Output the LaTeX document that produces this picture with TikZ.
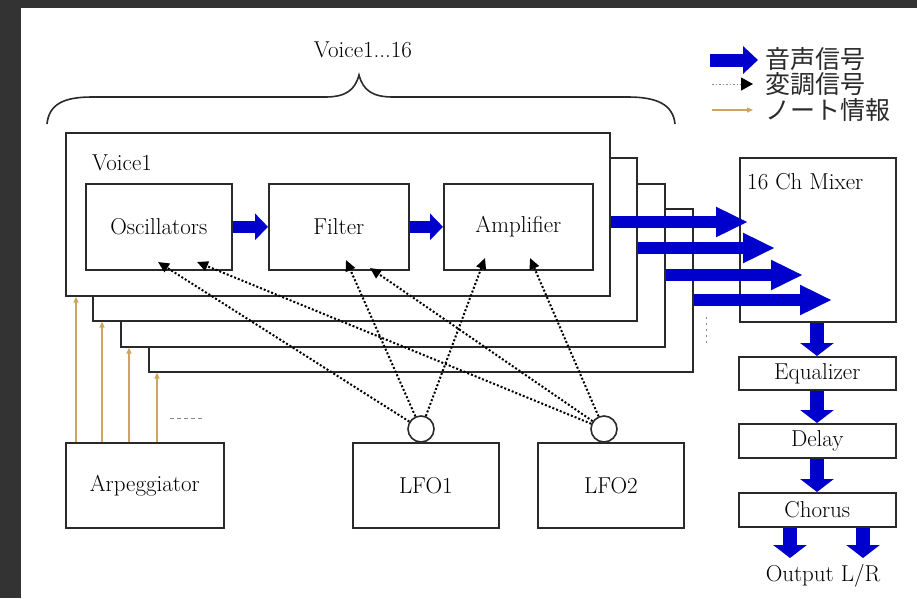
\documentclass[tikz,border=0pt]{standalone}
\usepackage{fontspec}
\newfontfamily\jpfont{Noto Sans CJK JP}
\usetikzlibrary{arrows.meta}
\definecolor{frame}{HTML}{333333}
\definecolor{ink}{HTML}{2A2A2A}
\definecolor{sig}{RGB}{0,0,205}
\definecolor{note}{RGB}{205,165,95}
\definecolor{dots}{HTML}{8A8A8A}
\begin{document}
\begin{tikzpicture}[x=1pt,y=-1pt,
  box/.style={draw=ink, line width=1.6pt, fill=white, inner sep=0pt, anchor=north west},
  lbl/.style={font=\fontsize{23}{23}\selectfont, text=black, inner sep=0pt},
  jp/.style={font=\jpfont\fontsize{25}{25}\selectfont, text=ink, inner sep=0pt, anchor=west},
  audio/.style={draw=sig, line width=12pt, -{Triangle[length=32pt,width=28pt]}},
  audioshort/.style={draw=sig, line width=12pt, -{Triangle[length=13pt,width=26pt]}},
  audiodown/.style={draw=sig, line width=14pt, -{Triangle[length=13pt,width=33pt]}},
  mod/.style={draw=black, line width=2pt, dash pattern=on 2pt off 2pt,
    -{Triangle[length=11pt,width=10pt]}},
  notearrow/.style={draw=note, line width=1.3pt, -{Triangle[length=6pt,width=5pt]}},
  lfoport/.style={circle, draw=ink, line width=1.6pt, fill=white, minimum size=26pt, inner sep=0pt},
]
\useasboundingbox (0,0) rectangle (917,598);
% page and frame
\fill[frame] (0,0) rectangle (917,598);
\fill[white] (21,8) rectangle (917,598);

% brace over the voice stack
\draw[ink, line width=1.6pt] (47,124) .. controls (49,104) and (64,97) .. (92,97)
  -- (325,97) .. controls (346,97) and (355,90) .. (359,75)
  .. controls (363,90) and (372,97) .. (393,97)
  -- (628,97) .. controls (656,97) and (673,104) .. (675,124);
\node[lbl] (title) at (363,50) {Voice1...16};

% stacked voices, back to front
\node[box, minimum width=544pt, minimum height=163pt] (v4) at (148,208) {};
\node[box, minimum width=544pt, minimum height=163pt] (v3) at (120,183) {};
\node[box, minimum width=544pt, minimum height=163pt] (v2) at (92,157) {};
\node[box, minimum width=544pt, minimum height=163pt] (v1) at (65,132) {};
\node[lbl, anchor=west] (v1name) at (92,163) {Voice1};

% voice signal chain
\node[box, minimum width=146pt, minimum height=86pt] (osc) at (85,183) {};
\node[box, minimum width=140pt, minimum height=86pt] (filter) at (268,183) {};
\node[box, minimum width=149pt, minimum height=86pt] (amp) at (443,183) {};
\node[lbl] (osct) at (osc.center) {Oscillators};
\node[lbl] (filtert) at (filter.center) {Filter};
\node[lbl] (ampt) at (amp.center) {Amplifier};
\draw[audioshort] (osc) -- (filter);
\draw[audioshort] (filter) -- (amp);

% mixer and effects
\node[box, minimum width=156pt, minimum height=164pt] (mixer) at (739,157) {};
\node[lbl, anchor=west] (mixert) at (747,182) {16 Ch Mixer};
\node[box, minimum width=157pt, minimum height=33pt] (eq) at (738,356) {};
\node[box, minimum width=157pt, minimum height=34pt] (delay) at (738,423) {};
\node[box, minimum width=157pt, minimum height=34pt] (chorus) at (738,492) {};
\node[lbl] (eqt) at (eq.center) {Equalizer};
\node[lbl] (delayt) at (delay.center) {Delay};
\node[lbl] (chorust) at (chorus.center) {Chorus};
\node[lbl] (out) at (823,576) {Output L/R};

% voice outputs into the mixer
\coordinate (m1) at (748,222);
\coordinate (m2) at (775,248);
\coordinate (m3) at (803,275);
\coordinate (m4) at (832,300);
\draw[audio] (v1.east |- m1) -- (m1);
\draw[audio] (v2.east |- m2) -- (m2);
\draw[audio] (v3.east |- m3) -- (m3);
\draw[audio] (v4.east |- m4) -- (m4);
\coordinate (vd1) at (706,317);
\coordinate (vd2) at (706,344);
\draw[dots, line width=1pt, dash pattern=on 2pt off 4pt] (vd1) -- (vd2);

% effects chain
\coordinate (cx) at (817,0);
\draw[audiodown] (mixer.south -| cx) -- (eq.north -| cx);
\draw[audiodown] (eq.south -| cx) -- (delay.north -| cx);
\draw[audiodown] (delay.south -| cx) -- (chorus.north -| cx);
\coordinate (o1) at (790,558);
\coordinate (o2) at (863,558);
\draw[audiodown] (chorus.south -| o1) -- (o1);
\draw[audiodown] (chorus.south -| o2) -- (o2);

% arpeggiator and LFOs
\node[box, minimum width=158pt, minimum height=85pt] (arp) at (65,442) {};
\node[box, minimum width=146pt, minimum height=85pt] (lfo1) at (352,442) {};
\node[box, minimum width=146pt, minimum height=85pt] (lfo2) at (537,442) {};
\node[lbl] (arpt) at (arp.center) {Arpeggiator};
\node[lbl] (lfo1t) at (lfo1.center) {LFO1};
\node[lbl] (lfo2t) at (lfo2.center) {LFO2};
\node[lfoport] (lfo1c) at (421,429) {};
\node[lfoport] (lfo2c) at (604,429) {};

% note information to each voice
\coordinate (n1) at (76,0);
\coordinate (n2) at (102,0);
\coordinate (n3) at (129,0);
\coordinate (n4) at (157,0);
\draw[notearrow] (arp.north -| n1) -- (v1.south -| n1);
\draw[notearrow] (arp.north -| n2) -- (v2.south -| n2);
\draw[notearrow] (arp.north -| n3) -- (v3.south -| n3);
\draw[notearrow] (arp.north -| n4) -- (v4.south -| n4);
\coordinate (hd1) at (170,418);
\coordinate (hd2) at (203,418);
\draw[dots, line width=1pt, dash pattern=on 4pt off 3pt] (hd1) -- (hd2);

% modulation routing
\coordinate (to1) at (158,262);
\coordinate (to2) at (197,262);
\coordinate (tf1) at (346,260);
\coordinate (tf2) at (370,268);
\coordinate (ta1) at (485,258);
\coordinate (ta2) at (530,258);
\draw[mod] (lfo1c) -- (to1);
\draw[mod] (lfo1c) -- (tf1);
\draw[mod] (lfo1c) -- (ta1);
\draw[mod] (lfo2c) -- (to2);
\draw[mod] (lfo2c) -- (tf2);
\draw[mod] (lfo2c) -- (ta2);

% legend
\coordinate (la1) at (710,60);
\coordinate (la2) at (758,60);
\coordinate (lb1) at (712,84);
\coordinate (lb2) at (753,84);
\coordinate (lc1) at (712,110);
\coordinate (lc2) at (753,110);
\draw[draw=sig, line width=13pt, -{Triangle[length=15pt,width=27pt]}] (la1) -- (la2);
\draw[dots, line width=1pt, dash pattern=on 1.5pt off 2pt, -{Triangle[length=12pt,width=13pt,color=black,fill=black]}] (lb1) -- (lb2);
\draw[notearrow] (lc1) -- (lc2);
\node[jp] (lega) at (765,59) {音声信号};
\node[jp] (legb) at (765,84) {変調信号};
\node[jp] (legc) at (765,110) {ノート情報};
\end{tikzpicture}
\end{document}
